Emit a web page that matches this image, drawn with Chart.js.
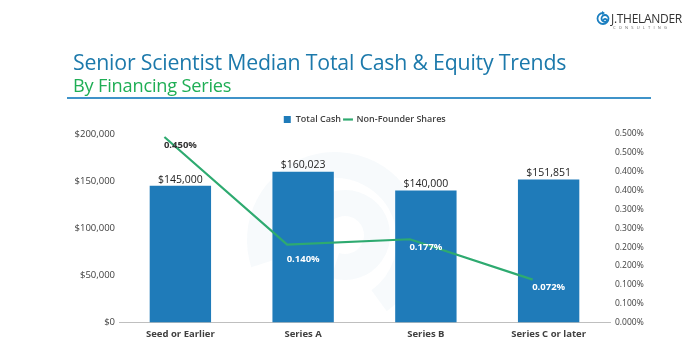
<!DOCTYPE html>
<html>
<head>
<meta charset="utf-8">
<script src="https://cdn.jsdelivr.net/npm/chart.js@4"></script>
<style>
  body { margin: 0; background: #fff; }
  #wrap { position: relative; width: 700px; height: 351px; overflow: hidden; font-family: "Open Sans", sans-serif; }
  #chart1 { position: absolute; left: 0; top: 0; }
  .title { position: absolute; left: 73px; top: 47px; font-size: 21.3px; color: #1c79ab; white-space: nowrap; letter-spacing: -0.2px; }
  .sub { position: absolute; left: 73px; top: 73px; font-size: 18.2px; color: #1fae55; white-space: nowrap; letter-spacing: -0.2px; }
  .rule { position: absolute; left: 67px; top: 97px; width: 584px; height: 2px; background: #3f93c9; }
  .logo { position: absolute; left: 611px; top: 10px; font-size: 12px; color: #333; letter-spacing: -0.3px; }
  .logo2 { position: absolute; left: 613px; top: 25px; font-size: 4px; color: #666; letter-spacing: 3.2px; }
</style>
</head>
<body>
<div id="wrap">
  <canvas id="chart1" width="700" height="351"></canvas>
  <div class="title">Senior Scientist Median Total Cash &amp; Equity Trends</div>
  <div class="sub">By Financing Series</div>
  <div class="rule"></div>
  <svg style="position:absolute;left:596px;top:10px" width="14" height="16" viewBox="0 0 14 16">
    <path d="M7 3 A5.5 5.5 0 1 0 12.5 8.5 A3.5 3.5 0 1 0 9 12 A1.6 1.6 0 1 0 7.5 10.5" fill="none" stroke="#1b7fc0" stroke-width="1.8"/>
    <path d="M6 1 L9 3 L6 5 Z" fill="#1b7fc0"/>
  </svg>
  <div class="logo">J.THELANDER</div>
  <div class="logo2">CONSULTING</div>
</div>
<script>
// chart data
var categories = ["Seed or Earlier", "Series A", "Series B", "Series C or later"];
var totalCash = [145000, 160023, 140000, 151851];
// line heights as they sit on the right axis
var shares = [0.492, 0.207, 0.221, 0.114];
var shareLabels = ["0.450%", "0.140%", "0.177%", "0.072%"];
var leftTicks = ["$0", "$50,000", "$100,000", "$150,000", "$200,000"];
var rightTicks = ["0.000%", "0.100%", "0.100%", "0.200%", "0.200%", "0.300%", "0.300%", "0.400%", "0.400%", "0.500%", "0.500%"];

var BAR = "#1f7bb9";
var GREEN = "#2eaa70";
var TXT = "#404040";

const ctx = document.getElementById("chart1");

var myChart = new Chart(ctx, {
  type: "bar",
  data: {
    labels: categories,
    datasets: [
      {
        type: "bar",
        label: "Total Cash",
        data: totalCash,
        backgroundColor: BAR,
        xAxisID: "x",
        yAxisID: "y",
        grouped: false,
        categoryPercentage: 1,
        barPercentage: 0.5,
        order: 2,
      },
      {
        type: "line",
        label: "Non-Founder Shares",
        data: shares.map((v, i) => ({ x: i, y: v })),
        borderColor: GREEN,
        backgroundColor: GREEN,
        borderWidth: 2.2,
        pointRadius: 0,
        tension: 0,
        xAxisID: "x2",
        yAxisID: "y2",
        order: 1,
      },
    ],
  },
  options: {
    responsive: false,
    animation: false,
    events: [],
    layout: {
      padding: { left: 39, right: 10, top: 112, bottom: 5 },
    },
    plugins: {
      tooltip: { enabled: false },
      legend: {
        position: "top",
        labels: {
          color: TXT,
          usePointStyle: true,
          boxWidth: 8,
          boxHeight: 7,
          padding: 3,
          font: { family: "Open Sans", size: 9, weight: "600" },
          generateLabels: function (chart) {
            return chart.data.datasets.map((ds, i) => ({
              text: ds.label,
              fillStyle: i == 0 ? BAR : GREEN,
              strokeStyle: i == 0 ? BAR : GREEN,
              lineWidth: i == 0 ? 0 : 2.2,
              pointStyle: i == 0 ? "rect" : "line",
              fontColor: TXT,
              datasetIndex: i,
            }));
          },
        },
      },
    },
    scales: {
      x: {
        type: "category",
        grid: { display: false, drawTicks: false },
        border: { display: true, color: "#bfbfbf", width: 1 },
        ticks: {
          color: TXT,
          padding: 6,
          font: { family: "Open Sans", size: 9.5, weight: "bold" },
        },
      },
      x2: {
        type: "linear",
        display: false,
        offset: false,
        min: -0.37,
        max: 3.63,
      },
      y: {
        position: "left",
        min: 0,
        max: 200000,
        grid: { display: false, drawTicks: false },
        border: { display: false },
        afterFit: function (s) { s.width = 80; },
        ticks: {
          stepSize: 50000,
          color: TXT,
          padding: 4,
          font: { family: "Open Sans", size: 9.5 },
          callback: function (value, index) {
            return leftTicks[index];
          },
        },
      },
      y2: {
        position: "right",
        min: 0,
        max: 0.5,
        grid: { display: false, drawTicks: false },
        border: { display: false },
        afterFit: function (s) { s.width = 80; },
        ticks: {
          stepSize: 0.05,
          color: TXT,
          padding: 5,
          font: { family: "Open Sans", size: 8.5 },
          callback: function (value, index) {
            return rightTicks[index];
          },
        },
      },
    },
  },
  plugins: [
    {
      id: "watermark",
      beforeDatasetsDraw: (chart) => {
        const c = chart.ctx;
        c.save();
        c.strokeStyle = "rgba(40,110,170,0.035)";
        c.lineWidth = 26;
        c.beginPath();
        c.arc(335, 240, 75, Math.PI * 0.9, Math.PI * 2.3);
        c.stroke();
        c.beginPath();
        c.arc(345, 235, 32, Math.PI * 1.2, Math.PI * 2.6);
        c.stroke();
        c.restore();
      },
    },
    {
      id: "valueLabels",
      afterDatasetsDraw: (chart) => {
        const c = chart.ctx;
        const bars = chart.getDatasetMeta(0).data;
        const xs = chart.scales.x;
        const pts = chart.getDatasetMeta(1).data;
        c.save();
        c.textAlign = "center";
        c.font = "10.5px 'Open Sans'";
        c.fillStyle = "#222";
        c.textBaseline = "bottom";
        bars.forEach((b, i) => {
          c.fillText("$" + totalCash[i].toLocaleString("en-US"), b.x, b.y - 1);
        });
        c.font = "bold 9.5px 'Open Sans'";
        c.textBaseline = "middle";
        pts.forEach((p, i) => {
          c.fillStyle = i == 0 ? "#333" : "#fff";
          c.fillText(shareLabels[i], xs.getPixelForValue(i), p.y + (i == 1 ? 15 : 8));
        });
        c.restore();
      },
    },
  ],
});
</script>
</body>
</html>
